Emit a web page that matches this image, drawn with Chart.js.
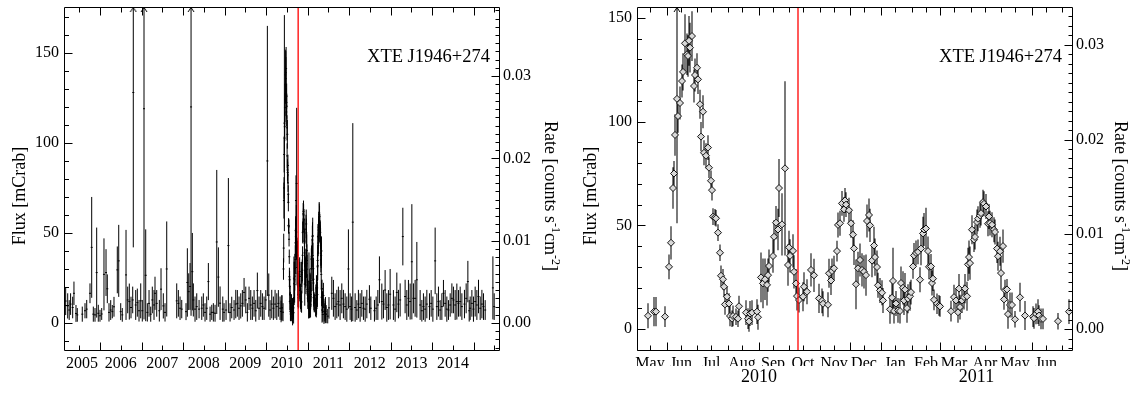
<!DOCTYPE html>
<html lang="en">
<head>
<meta charset="UTF-8">
<title>XTE J1946+274 - BAT light curve</title>
<script src="https://cdn.jsdelivr.net/npm/chart.js"></script>
<style>
  html, body { margin: 0; padding: 0; background: #fff; }
  #wrap { position: relative; width: 1141px; height: 393px; overflow: hidden; }
  #wrap canvas { position: absolute; top: 0; }
</style>
</head>
<body>
<div id="wrap">
  <canvas id="longterm" width="570" height="393" style="left:0"></canvas>
  <canvas id="outburst" width="571" height="393" style="left:570px"></canvas>
</div>
<script>
// ---- data ---------------------------------------------------------------
// long-term light curve before the 2010 outburst (decimal year, mCrab)
const preTime = [
  2005.173, 2005.222, 2005.258, 2005.292, 2005.342, 2005.373, 2005.422, 2005.453, 2005.573, 2005.639,
  2005.680, 2005.759, 2005.800, 2005.839, 2005.880, 2005.920, 2005.959, 2006.000, 2006.041, 2006.096,
  2006.145, 2006.176, 2006.217, 2006.258, 2006.296, 2006.337, 2006.417, 2006.451, 2006.499, 2006.537,
  2006.627, 2006.667, 2006.706, 2006.747, 2006.788, 2006.802, 2006.860, 2006.899, 2006.940, 2006.981,
  2007.019, 2007.060, 2007.101, 2007.140, 2007.181, 2007.222, 2007.260, 2007.301, 2007.325, 2007.366,
  2007.429, 2007.470, 2007.525, 2007.566, 2007.607, 2007.848, 2007.887, 2007.928, 2007.969, 2008.072,
  2008.104, 2008.137, 2008.169, 2008.193, 2008.224, 2008.248, 2008.289, 2008.330, 2008.386, 2008.451,
  2008.489, 2008.530, 2008.571, 2008.610, 2008.651, 2008.692, 2008.730, 2008.771, 2008.812, 2008.851,
  2008.892, 2008.957, 2008.988, 2009.036, 2009.092, 2009.133, 2009.173, 2009.229, 2009.270, 2009.308,
  2009.349, 2009.390, 2009.429, 2009.470, 2009.511, 2009.549, 2009.590, 2009.631, 2009.670, 2009.711,
  2009.752, 2009.790, 2009.831, 2009.872, 2009.911, 2009.952, 2009.993, 2010.031, 2010.065, 2010.096,
  2010.137, 2010.176, 2010.217, 2010.258, 2010.296, 2010.337
];
const preFlux = [
  12.2, 9.5, 7.2, 10.5, 8.6, 16.5, 5.3, 4.5, 4.9, 6.8,
  7.7, 16.5, 42.0, 4.9, 4.5, 28.0, 5.4, 4.0, 5.0, 27.0,
  28.0, 19.0, 5.9, 7.2, 6.3, 9.0, 29.5, 34.5, 6.3, 4.5,
  26.7, 12.8, 11.9, 8.6, 12.8, 128.0, 10.0, 11.3, 6.8, 12.3,
  6.8, 119.0, 26.5, 5.9, 10.9, 4.9, 12.8, 10.0, 16.5, 10.9,
  6.8, 18.8, 9.5, 5.9, 30.0, 12.3, 10.9, 8.2, 7.7, 6.3,
  22.5, 17.4, 20.3, 120.0, 28.5, 12.8, 7.7, 9.1, 7.7, 8.2,
  10.0, 5.9, 8.2, 23.0, 4.9, 5.9, 5.9, 5.4, 45.0, 25.5,
  11.0, 7.7, 5.9, 7.2, 43.0, 5.9, 8.6, 7.2, 10.5, 10.9,
  8.2, 9.5, 10.9, 17.0, 12.8, 5.9, 13.7, 10.0, 8.2, 10.9,
  6.8, 18.0, 8.2, 10.9, 9.1, 8.2, 12.8, 90.0, 15.5, 7.2,
  10.5, 8.2, 10.5, 9.1, 10.9, 8.2
];
const preErr = [
  7.8, 7.0, 5.5, 6.0, 6.0, 6.5, 4.7, 3.8, 4.2, 4.2,
  5.1, 5.5, 28.0, 4.2, 3.8, 25.0, 4.7, 3.3, 3.3, 20.0,
  13.0, 8.0, 5.1, 5.5, 3.7, 5.5, 13.0, 20.0, 4.7, 3.8,
  25.0, 7.4, 10.0, 6.0, 7.4, 86.0, 8.3, 7.8, 6.0, 9.7,
  6.0, 117.0, 25.5, 5.1, 7.4, 4.2, 7.4, 8.3, 9.2, 7.4,
  6.0, 11.6, 7.0, 5.1, 26.4, 9.7, 7.4, 6.5, 5.1, 4.7,
  19.0, 10.2, 13.0, 116.0, 21.5, 9.2, 7.0, 7.4, 5.1, 6.5,
  6.5, 5.1, 6.5, 10.3, 4.2, 4.2, 5.1, 4.7, 40.0, 16.5,
  9.3, 7.0, 5.1, 5.5, 37.5, 5.1, 6.0, 5.5, 7.9, 7.4,
  6.5, 7.0, 7.4, 8.0, 7.4, 5.1, 6.5, 8.3, 6.5, 7.4,
  6.0, 10.0, 6.5, 7.4, 7.4, 6.5, 5.5, 75.0, 12.0, 5.5,
  7.9, 6.5, 7.9, 7.4, 7.4, 6.5
];

// long-term light curve after the outburst (decimal year, mCrab)
const postTime = [
  2011.583, 2011.622, 2011.663, 2011.704, 2011.742, 2011.783, 2011.824, 2011.863, 2011.904, 2011.945,
  2011.983, 2012.024, 2012.055, 2012.089, 2012.145, 2012.186, 2012.224, 2012.265, 2012.306, 2012.345,
  2012.386, 2012.427, 2012.489, 2012.523, 2012.610, 2012.651, 2012.692, 2012.730, 2012.788, 2012.827,
  2012.867, 2012.908, 2012.947, 2012.988, 2013.067, 2013.108, 2013.149, 2013.188, 2013.229, 2013.294,
  2013.349, 2013.390, 2013.429, 2013.470, 2013.511, 2013.549, 2013.590, 2013.631, 2013.711, 2013.752,
  2013.790, 2013.831, 2013.872, 2013.935, 2013.976, 2014.017, 2014.072, 2014.113, 2014.152, 2014.193,
  2014.234, 2014.272, 2014.313, 2014.354, 2014.393, 2014.434, 2014.475, 2014.513, 2014.554, 2014.595,
  2014.634, 2014.675, 2014.716, 2014.778, 2014.819, 2014.860, 2014.892, 2014.916, 2014.957, 2014.995,
  2015.036, 2015.077, 2015.116, 2015.157, 2015.198, 2015.236, 2015.277, 2015.463, 2015.494
];
const postFlux = [
  16.5, 13.7, 9.1, 10.5, 11.9, 10.0, 13.7, 10.5, 9.1, 7.7,
  30.0, 9.1, 7.7, 56.0, 8.6, 7.2, 10.5, 8.6, 10.9, 8.2,
  7.7, 10.5, 13.2, 8.2, 6.8, 8.2, 10.0, 24.0, 11.9, 10.5,
  18.3, 8.6, 10.0, 16.0, 10.0, 7.7, 17.0, 10.5, 12.8, 48.0,
  14.7, 10.0, 13.7, 11.9, 34.0, 13.7, 13.7, 24.0, 10.0, 6.8,
  9.1, 7.7, 10.5, 9.1, 10.9, 7.7, 34.5, 9.1, 11.9, 7.2,
  9.1, 16.5, 10.9, 7.7, 7.2, 10.0, 13.7, 12.8, 10.0, 11.9,
  10.9, 11.9, 9.1, 10.5, 13.7, 23.0, 6.8, 8.2, 10.9, 7.7,
  11.9, 10.0, 14.7, 8.2, 10.5, 9.1, 7.2, 19.5, 9.1
];
const postErr = [
  9.2, 10.2, 7.4, 7.9, 8.3, 8.3, 8.3, 7.9, 7.4, 7.0,
  22.0, 7.4, 7.0, 55.0, 7.9, 5.5, 7.9, 7.9, 7.4, 6.5,
  7.0, 7.9, 7.8, 6.5, 6.0, 6.5, 8.3, 13.0, 10.0, 7.9,
  11.1, 7.9, 8.3, 14.0, 8.3, 7.0, 11.0, 7.9, 9.2, 16.0,
  9.3, 8.3, 10.2, 10.0, 32.0, 8.3, 10.2, 21.0, 8.3, 6.0,
  7.4, 7.0, 7.9, 7.4, 7.4, 7.0, 18.5, 7.4, 8.3, 5.5,
  7.4, 7.4, 7.4, 7.0, 5.5, 6.5, 8.3, 7.4, 8.3, 10.0,
  7.4, 8.3, 7.4, 7.9, 8.3, 11.5, 6.0, 6.5, 7.4, 7.0,
  8.3, 8.3, 9.3, 6.5, 7.9, 7.4, 5.5, 17.5, 7.4
];

// 2010-2011 outburst (days since 2010 Jan 1, mCrab)
const obDay = [
  132, 138, 140, 149, 153, 155, 157, 158, 159, 161,
  162, 164, 166, 167, 169, 171, 172, 173, 174, 176,
  178, 179, 181, 182, 184, 185, 187, 188, 190, 192,
  193, 195, 196, 197, 199, 200, 202, 204, 205, 207,
  208, 209, 211, 213, 214, 216, 217, 220, 222, 223,
  230, 232, 233, 234, 236, 241, 242, 245, 247, 249,
  251, 252, 253, 257, 258, 260, 262, 263, 266, 269,
  272, 273, 274, 277, 278, 280, 281, 283, 287, 288,
  291, 295, 298, 303, 306, 307, 312, 313, 315, 316,
  318, 321, 322, 324, 326, 328, 329, 330, 333, 335,
  337, 338, 340, 342, 344, 346, 348, 350, 351, 353,
  354, 356, 358, 359, 361, 362, 364, 366, 367, 374,
  376, 377, 378, 380, 382, 384, 385, 387, 388, 389,
  391, 392, 394, 395, 397, 398, 400, 402, 404, 405,
  407, 408, 410, 412, 413, 415, 416, 417, 418, 421,
  423, 424, 435, 438, 440, 442, 443, 444, 446, 448,
  449, 451, 452, 453, 454, 456, 458, 459, 461, 462,
  464, 465, 467, 468, 470, 472, 473, 474, 476, 478,
  479, 481, 482, 484, 485, 487, 488, 489, 491, 492,
  494, 496, 499, 504, 509, 517, 518, 520, 522, 523,
  525, 527, 542, 553
];
const obFlux = [
  6.4, 8.4, 8.4, 6.0, 30.0, 41.6, 68.0, 75.0, 93.6, 111.0,
  102.7, 109.0, 119.6, 124.0, 137.8, 132.5, 131.7, 139.0, 135.7, 141.3,
  117.2, 122.5, 126.0, 120.4, 108.4, 92.8, 104.8, 85.0, 83.6, 87.5,
  77.8, 71.5, 67.0, 54.2, 53.9, 53.4, 46.5, 36.8, 25.7, 24.0,
  20.4, 11.9, 15.6, 12.3, 6.3, 5.0, 6.3, 5.9, 5.0, 11.0,
  7.9, 5.0, 3.7, 7.5, 7.9, 8.4, 5.7, 24.9, 22.0, 24.0,
  21.3, 26.0, 30.4, 35.2, 44.5, 51.3, 48.0, 68.0, 50.5, 77.5,
  30.9, 39.4, 35.3, 37.7, 27.6, 22.0, 15.9, 14.0, 15.6, 20.4,
  18.0, 28.5, 25.9, 14.8, 13.6, 12.2, 11.7, 26.9, 23.4, 28.0,
  29.3, 37.6, 50.2, 51.0, 60.6, 57.7, 62.0, 60.0, 57.3, 51.0,
  45.5, 38.9, 21.6, 29.3, 33.3, 28.5, 27.6, 26.0, 52.1, 55.0,
  50.0, 33.0, 40.3, 34.7, 29.9, 21.1, 18.6, 17.5, 13.8, 9.5,
  15.1, 23.2, 8.7, 12.3, 9.0, 8.7, 22.2, 19.9, 13.8, 19.0,
  10.1, 14.6, 15.8, 17.8, 30.2, 35.5, 36.7, 37.2, 23.8, 38.8,
  46.1, 48.0, 48.5, 37.6, 30.0, 30.2, 22.2, 24.3, 14.1, 12.2,
  11.4, 10.9, 8.6, 15.4, 13.8, 8.1, 19.5, 10.6, 13.8, 15.4,
  19.5, 15.8, 31.2, 34.7, 31.8, 47.9, 43.1, 44.4, 51.6, 53.2,
  54.8, 55.9, 61.2, 60.4, 59.1, 50.8, 54.3, 51.1, 50.3, 47.9,
  46.8, 38.8, 35.1, 37.5, 27.0, 40.0, 14.3, 18.8, 19.1, 7.2,
  11.6, 11.6, 4.7, 15.3, 6.5, 6.0, 5.2, 7.3, 8.4, 6.5,
  4.9, 4.9, 3.8, 8.4
];
const obErr = [
  6, 7, 7, 5, 6, 8, 10, 6, 10, 60,
  8, 8, 8, 9, 14, 10, 10, 12, 12, 12,
  8, 8, 7, 7, 7, 7, 8, 6, 6, 6,
  5, 5, 5, 4, 4, 4, 4, 4, 5, 5,
  5, 5, 5, 5, 5, 4, 5, 4, 4, 5,
  6, 5, 5, 6, 6, 6, 6, 12, 12, 10,
  10, 8, 8, 8, 8, 8, 10, 14, 15, 42,
  10, 8, 8, 8, 8, 7, 7, 6, 7, 7,
  6, 8, 8, 7, 6, 6, 6, 7, 7, 6,
  6, 5, 6, 6, 6, 6, 6, 6, 6, 7,
  7, 8, 12, 8, 8, 8, 8, 10, 8, 8,
  8, 8, 9, 9, 8, 6, 6, 6, 6, 7,
  8, 16, 6, 6, 6, 6, 8, 8, 7, 8,
  7, 7, 7, 6, 6, 6, 6, 6, 6, 8,
  8, 8, 10, 7, 6, 6, 6, 6, 5, 5,
  5, 5, 5, 6, 6, 5, 7, 6, 6, 6,
  7, 7, 8, 8, 8, 7, 6, 6, 6, 6,
  6, 6, 6, 6, 6, 6, 6, 6, 6, 6,
  6, 7, 7, 7, 8, 8, 5, 5, 5, 7,
  6, 6, 4, 7, 7, 5, 5, 5, 6, 5,
  5, 5, 4, 6
];

const yearTickLabels = [2005, 2006, 2007, 2008, 2009, 2010, 2011, 2012, 2013, 2014];
const monthNames = ['Jan', 'Feb', 'Mar', 'Apr', 'May', 'Jun', 'Jul', 'Aug', 'Sep', 'Oct', 'Nov', 'Dec'];
const sourceName = 'XTE J1946+274';
const markerDay = 282;          // vertical reference line, days since 2010 Jan 1
const mCrabPerRate = 4570;      // 1 count s^-1 cm^-2 in mCrab

// ---- axis limits --------------------------------------------------------
const longX = { min: 2005.133, max: 2015.61 };
const longY = { min: -15, max: 175.5 };
const obX = { min: 121, max: 556 };
const obY = { min: -10.1, max: 155.3 };

// ---- helpers ------------------------------------------------------------
const DAY0 = Date.UTC(2010, 0, 1);
const dayOf = (y, m) => (Date.UTC(y, m, 1) - DAY0) / 864e5;
const dayToYear = d => 2010 + d / 365;

function errorBars(xs, ys, es) {
  const pts = [];
  xs.forEach((x, i) => {
    pts.push({ x, y: ys[i] - es[i] }, { x, y: ys[i] + es[i] }, { x, y: null });
  });
  return pts;
}
function points(xs, ys) {
  return xs.map((x, i) => ({ x, y: ys[i] }));
}
// off-scale error bars get an arrow head at the top of the frame
function offScale(xs, ys, es, top) {
  return xs.filter((x, i) => ys[i] + es[i] > top).map(x => ({ x, y: top }));
}
function evenMarks(from, to, step, majorEvery, majorLen, minorLen) {
  const out = [];
  const n0 = Math.ceil(from / step - 1e-9), n1 = Math.floor(to / step + 1e-9);
  for (let n = n0; n <= n1; n++) {
    out.push({ v: n * step, len: n % majorEvery === 0 ? majorLen : minorLen });
  }
  return out;
}
function evenTicks(from, to, step) {
  const out = [];
  const n0 = Math.ceil(from / step - 1e-9), n1 = Math.floor(to / step + 1e-9);
  for (let n = n0; n <= n1; n++) out.push({ value: Math.round(n * step * 1e6) / 1e6 });
  return out;
}

// small open arrow head used as point style
const chevron = document.createElement('canvas');
chevron.width = 8; chevron.height = 16;
(function () {
  const c = chevron.getContext('2d');
  c.strokeStyle = '#000'; c.lineWidth = 1;
  c.beginPath(); c.moveTo(1, 13); c.lineTo(4, 8.5); c.lineTo(7, 13); c.stroke();
})();

Chart.defaults.font.family = '"Liberation Serif", "Times New Roman", serif';
Chart.defaults.color = '#000';

const SERIF = '"Liberation Serif", "Times New Roman", serif';
const rateTitle = [['Rate [counts s', 0], ['-1', 1], ['cm', 0], ['-2', 1], [']', 0]];

// frame, inward tick marks, axis titles and source name
const framePlugin = {
  id: 'frame',
  afterDraw(chart, args, o) {
    const { ctx, chartArea: a, scales } = chart;
    const L = Math.round(a.left) + 0.5, R = Math.round(a.right) + 0.5;
    const T = Math.round(a.top) + 0.5, B = Math.round(a.bottom) + 0.5;
    ctx.save();
    ctx.strokeStyle = '#000';
    ctx.lineWidth = 1;
    ctx.beginPath();
    ctx.rect(L, T, R - L, B - T);
    o.xMarks.forEach(m => {
      if (m.v <= scales.x.min || m.v >= scales.x.max) return;
      const px = Math.round(scales.x.getPixelForValue(m.v)) + 0.5;
      ctx.moveTo(px, B); ctx.lineTo(px, B - m.len);
      ctx.moveTo(px, T); ctx.lineTo(px, T + m.len);
    });
    o.yMarks.forEach(m => {
      const py = Math.round(scales.y.getPixelForValue(m.v)) + 0.5;
      ctx.moveTo(L, py); ctx.lineTo(L + m.len, py);
    });
    o.rateMarks.forEach(m => {
      const py = Math.round(scales.yRate.getPixelForValue(m.v)) + 0.5;
      ctx.moveTo(R, py); ctx.lineTo(R - m.len, py);
    });
    ctx.stroke();

    ctx.fillStyle = '#000';
    ctx.font = '18.5px ' + SERIF;
    ctx.textAlign = 'right';
    ctx.textBaseline = 'alphabetic';
    ctx.fillText(sourceName, a.right - o.nameInset, 62);

    // left title, reading upwards
    ctx.save();
    ctx.translate(o.fluxTitleX, o.titleY);
    ctx.rotate(-Math.PI / 2);
    ctx.font = '18px ' + SERIF;
    ctx.textAlign = 'center';
    ctx.fillText('Flux [mCrab]', 0, 6);
    ctx.restore();

    // right title, reading downwards, with superscripts
    ctx.save();
    ctx.translate(o.rateTitleX, o.titleY);
    ctx.rotate(Math.PI / 2);
    ctx.textAlign = 'left';
    const fontFor = sup => (sup ? '12px ' : '18px ') + SERIF;
    let total = 0;
    rateTitle.forEach(([s, sup]) => { ctx.font = fontFor(sup); total += ctx.measureText(s).width; });
    let x = -total / 2;
    rateTitle.forEach(([s, sup]) => {
      ctx.font = fontFor(sup);
      ctx.fillText(s, x, sup ? -1 : 6);
      x += ctx.measureText(s).width;
    });
    ctx.restore();

    ctx.restore();
  }
};

const tickFont = { family: SERIF, size: 16 };
const noGrid = { display: false, drawTicks: false };
const noBorder = { display: false };
const labelOf = (v, i, ticks) => ticks[i].text;

function yScales(range, leftWidth, rightWidth) {
  return {
    y: {
      type: 'linear', position: 'left', min: range.min, max: range.max,
      grid: noGrid, border: noBorder,
      ticks: { font: tickFont, padding: 5, autoSkip: false, callback: v => String(v) },
      afterBuildTicks: s => { s.ticks = evenTicks(range.min, range.max, 50); },
      afterFit: s => { s.width = leftWidth; s.paddingTop = 0; s.paddingBottom = 0; }
    },
    yRate: {
      axis: 'y', type: 'linear', position: 'right',
      min: range.min / mCrabPerRate, max: range.max / mCrabPerRate,
      grid: noGrid, border: noBorder,
      ticks: { font: tickFont, padding: 4, autoSkip: false, callback: v => v.toFixed(2) },
      afterBuildTicks: s => { s.ticks = evenTicks(range.min / mCrabPerRate, range.max / mCrabPerRate, 0.01); },
      afterFit: s => { s.width = rightWidth; s.paddingTop = 0; s.paddingBottom = 0; }
    }
  };
}

function baseOptions() {
  return {
    responsive: false, animation: false, events: [], devicePixelRatio: 1,
    layout: { padding: { top: 7, left: 0, right: 0, bottom: 0 } },
    plugins: { legend: { display: false }, tooltip: { enabled: false } }
  };
}

// ---- left panel: 2005-2015 ------------------------------------------------
const obYear = obDay.map(dayToYear);
const allT = preTime.concat(obYear, postTime);
const allF = preFlux.concat(obFlux, postFlux);
const allE = preErr.concat(obErr, postErr);
const markerYear = dayToYear(markerDay);

const longXMarks = [];
for (let y = 2005; y <= 2016; y++) {
  longXMarks.push({ v: y, len: 8 }, { v: y + 0.5, len: 5 });
}

const leftOpts = baseOptions();
leftOpts.plugins.frame = {
  xMarks: longXMarks,
  yMarks: evenMarks(longY.min, longY.max, 10, 5, 8, 4.5),
  rateMarks: evenMarks(longY.min / mCrabPerRate, longY.max / mCrabPerRate, 0.001, 10, 8, 4),
  nameInset: 9, fluxTitleX: 19, rateTitleX: 551, titleY: 196
};
leftOpts.scales = Object.assign({
  x: {
    type: 'linear', position: 'bottom', min: longX.min, max: longX.max,
    grid: noGrid, border: noBorder,
    ticks: { font: tickFont, padding: 4, autoSkip: false, maxRotation: 0, callback: labelOf },
    afterBuildTicks: s => {
      s.ticks = yearTickLabels.map(y => ({
        value: (Math.max(y, longX.min) + Math.min(y + 1, longX.max)) / 2, text: String(y)
      }));
    },
    afterFit: s => { s.height = 43; s.paddingLeft = 0; s.paddingRight = 0; }
  }
}, yScales(longY, 64, 71));

new Chart(document.getElementById('longterm'), {
  type: 'line',
  data: {
    datasets: [
      { data: [{ x: markerYear, y: longY.min }, { x: markerYear, y: longY.max }],
        borderColor: '#ff0000', borderWidth: 1.3, pointRadius: 0 },
      { data: offScale(allT, allF, allE, longY.max), showLine: false,
        pointStyle: chevron, pointRadius: 4, clip: false },
      { data: points(allT, allF), showLine: false, pointStyle: 'line',
        pointRadius: 1, pointBorderColor: '#000', pointBorderWidth: 1 },
      { data: errorBars(allT, allF, allE), borderColor: '#000', borderWidth: 1,
        pointRadius: 0, spanGaps: false }
    ]
  },
  options: leftOpts,
  plugins: [framePlugin]
});

// ---- right panel: 2010-2011 outburst --------------------------------------
const obXMarks = [];
const monthLabelTicks = [];
for (let k = 3; k < 20; k++) {
  const start = dayOf(2010, k);
  const m = k % 12;
  obXMarks.push({ v: start, len: (m % 3 === 2 || m === 0) ? 8 : 5 });
  obXMarks.push({ v: start + 14, len: 5 });
  if (start + 14 > obX.min && start + 14 < obX.max) {
    monthLabelTicks.push({ value: start + 14, text: monthNames[m] });
  }
}
const obYearTicks = [2010, 2011].map(y => ({
  value: (Math.max(dayOf(y, 0), obX.min) + Math.min(dayOf(y + 1, 0), obX.max)) / 2, text: String(y)
}));

const rightOpts = baseOptions();
rightOpts.plugins.frame = {
  xMarks: obXMarks,
  yMarks: evenMarks(obY.min, obY.max, 10, 5, 8, 4.5),
  rateMarks: evenMarks(obY.min / mCrabPerRate, obY.max / mCrabPerRate, 0.001, 10, 8, 4),
  nameInset: 10, fluxTitleX: 20, rateTitleX: 551, titleY: 196
};
rightOpts.scales = Object.assign({
  x: {
    type: 'linear', position: 'bottom', weight: 0, min: obX.min, max: obX.max,
    grid: noGrid, border: noBorder,
    ticks: { font: tickFont, padding: 4, autoSkip: false, maxRotation: 0, callback: labelOf },
    afterBuildTicks: s => { s.ticks = monthLabelTicks.map(t => Object.assign({}, t)); },
    afterFit: s => { s.height = 16; s.paddingLeft = 0; s.paddingRight = 0; }
  },
  xYear: {
    axis: 'x', type: 'linear', position: 'bottom', weight: 1, min: obX.min, max: obX.max,
    grid: noGrid, border: noBorder,
    ticks: { font: { family: SERIF, size: 18 }, padding: 0, autoSkip: false, maxRotation: 0, callback: labelOf },
    afterBuildTicks: s => { s.ticks = obYearTicks.map(t => Object.assign({}, t)); },
    afterFit: s => { s.height = 27; s.paddingLeft = 0; s.paddingRight = 0; }
  }
}, yScales(obY, 67, 69));

new Chart(document.getElementById('outburst'), {
  type: 'line',
  data: {
    datasets: [
      { data: [{ x: markerDay, y: obY.min }, { x: markerDay, y: obY.max }],
        borderColor: '#ff0000', borderWidth: 1.3, pointRadius: 0 },
      { data: offScale(obDay, obFlux, obErr, obY.max), showLine: false,
        pointStyle: chevron, pointRadius: 4, clip: false },
      { data: points(obDay, obFlux), showLine: false, pointStyle: 'rectRot',
        pointRadius: 3.5, pointBackgroundColor: '#d8d8d8', pointBorderColor: '#111', pointBorderWidth: 1 },
      { data: errorBars(obDay, obFlux, obErr), borderColor: '#222', borderWidth: 1.2,
        pointRadius: 0, spanGaps: false }
    ]
  },
  options: rightOpts,
  plugins: [framePlugin]
});
</script>
</body>
</html>
